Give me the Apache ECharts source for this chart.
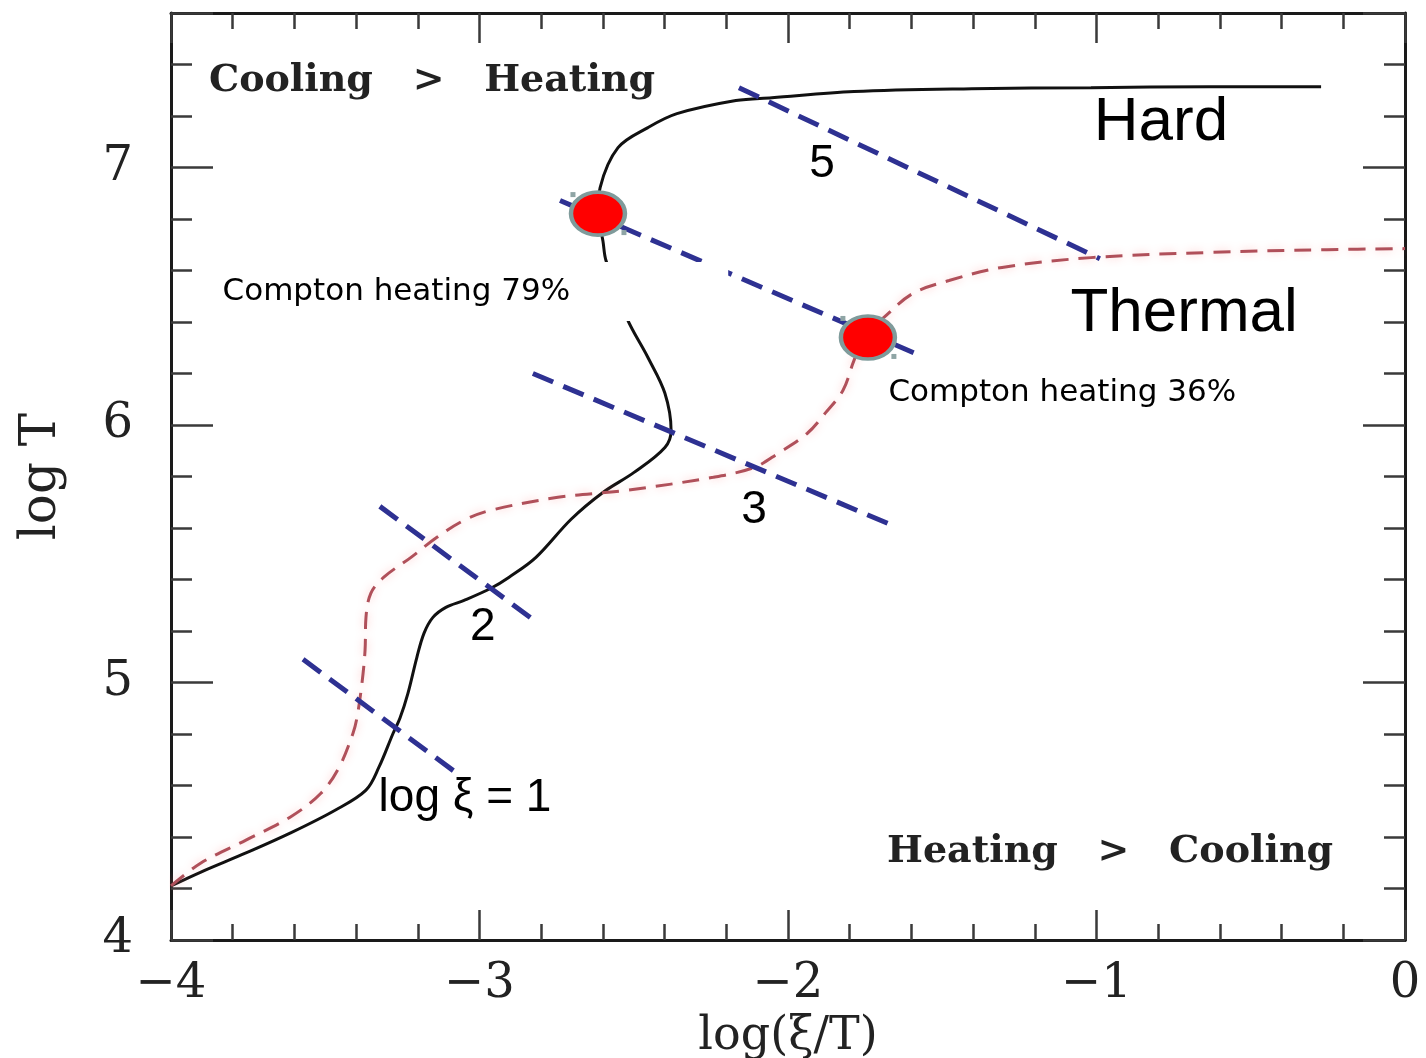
<!DOCTYPE html>
<html><head><meta charset="utf-8">
<script src="https://cdn.jsdelivr.net/npm/echarts@6/dist/echarts.min.js"></script>
<style>html,body{margin:0;padding:0;background:#fff}#c{width:1426px;height:1058px}</style>
</head><body><div id="c"></div>
<script>
// Hard (solid black) S-curve
const hardX = [-4.000,-3.903,-3.757,-3.614,-3.468,-3.368,-3.326,-3.280,-3.258,-3.232,-3.203,-3.180,-3.151,-3.109,-3.050,-2.963,-2.904,-2.817,-2.703,-2.600,-2.499,-2.399,-2.379,-2.399,-2.454,-2.522,-2.590,-2.600,-2.616,-2.609,-2.551,-2.454,-2.360,-2.169,-2.052,-1.786,-1.404,-1.018,-0.635,-0.272];
const hardY = [4.210,4.264,4.338,4.415,4.504,4.582,4.671,4.803,4.861,4.958,5.098,5.191,5.253,5.292,5.319,5.366,5.409,5.486,5.634,5.738,5.816,5.913,5.979,6.123,6.262,6.414,6.639,6.716,6.821,6.922,7.077,7.155,7.209,7.260,7.271,7.295,7.306,7.310,7.314,7.314];
// Thermal (dashed red) S-curve
const thermalX = [-4.000,-3.903,-3.757,-3.614,-3.514,-3.455,-3.410,-3.397,-3.381,-3.371,-3.368,-3.352,-3.310,-3.222,-3.138,-3.050,-2.963,-2.746,-2.528,-2.243,-2.110,-2.032,-1.938,-1.880,-1.822,-1.786,-1.747,-1.689,-1.595,-1.478,-1.306,-1.018,-0.635,-0.253,0.000];
const thermalY = [4.210,4.299,4.388,4.477,4.570,4.671,4.803,4.865,4.997,5.125,5.253,5.347,5.409,5.486,5.564,5.630,5.669,5.719,5.746,5.797,5.835,5.890,5.967,6.045,6.134,6.251,6.355,6.418,6.511,6.561,6.612,6.650,6.670,6.681,6.685];
// constant log xi lines (endpoints)
const xiLineNames = ['1','2','3','4','5'];
const xiLineX = [[-3.572,-3.057],[-3.323,-2.810],[-2.827,-1.647],[-2.739,-1.572],[-2.159,-0.989]];
const xiLineY = [[5.090,4.633],[5.684,5.230],[6.200,5.603],[6.872,6.270],[7.310,6.646]];
// Compton-heating markers
const comptonX = [-2.616,-1.741];
const comptonY = [6.821,6.340];
// ticks
const xTickValues = [-4,-3,-2,-1,0];
const yTickValues = [4,5,6,7];
// annotations [text, x, y]
const regionNotes = [['Cooling   >   Heating',-3.154,7.337],['Heating   >   Cooling',-0.956,4.341]];
const curveNotes = [['Hard',-0.791,7.174],['Thermal',-0.716,6.433]];
const xiNotes = [['5',-1.890,7.011],['3',-2.110,5.669],['2',-2.989,5.215],['log ξ = 1',-3.047,4.551]];
const comptonNoteBox = [['Compton heating 79%',-3.867,6.518]];
const comptonNotes = [['Compton heating 36%',-1.676,6.123]];

const zip = (xs, ys) => xs.map((x, i) => [x, ys[i]]);
const serif = 'DejaVu Serif';
const tickCol = '#3a3a3a';
const minus = v => (v < 0 ? '\u2212' + Math.abs(v) : String(v));

function xAxisCfg(pos, labels) {
  return {
    type: 'value', position: pos, min: -4, max: 0, interval: 1,
    axisLine: {show: true, onZero: false, lineStyle: {color: '#1a1a1a', width: 3}},
    axisTick: {show: true, inside: true, length: 30, lineStyle: {color: tickCol, width: 2.5}},
    minorTick: {show: true, splitNumber: 5, length: 16, lineStyle: {color: tickCol, width: 2.5}},
    splitLine: {show: false}, minorSplitLine: {show: false},
    axisLabel: {show: labels, margin: 21, fontFamily: serif, fontSize: 48, color: '#222',
      formatter: v => xTickValues.includes(v) ? minus(v) : ''},
    name: labels ? 'log(ξ/T)' : '', nameLocation: 'middle', nameGap: 62,
    nameTextStyle: {fontFamily: serif, fontSize: 46, color: '#222'}
  };
}
function yAxisCfg(pos, major, labels) {
  return {
    type: 'value', position: pos, min: 4, max: 7.6, interval: major ? 1 : 0.2,
    axisLine: {show: major, onZero: false, lineStyle: {color: '#1a1a1a', width: 3}},
    axisTick: {show: true, inside: true, length: major ? 42 : 21, lineStyle: {color: tickCol, width: 2.5}},
    splitLine: {show: false},
    axisLabel: {show: labels, margin: 38, fontFamily: serif, fontSize: 48, color: '#222',
      formatter: v => yTickValues.includes(v) ? String(v) : ''},
    name: labels ? 'log T' : '', nameLocation: 'middle', nameGap: 104, nameRotate: 90,
    nameTextStyle: {fontFamily: serif, fontSize: 50, color: '#222'}
  };
}
function textSeries(items, label, z) {
  return {
    type: 'scatter', silent: true, z: z, symbolSize: 1, itemStyle: {color: 'rgba(0,0,0,0)', opacity: 1},
    data: items.map(t => [t[1], t[2], t[0]]),
    label: Object.assign({show: true, position: 'inside', formatter: p => p.data[2]}, label)
  };
}
function handleSeries(offset) {
  return {type: 'scatter', silent: true, z: 5, data: zip(comptonX, comptonY), symbol: 'rect', symbolSize: 5,
    symbolOffset: offset, itemStyle: {color: '#8fa5a5', opacity: 1}};
}

const option = {
  animation: false,
  backgroundColor: '#fff',
  grid: {left: 171, right: 21, top: 13, bottom: 118, outerBoundsMode: 'none', containLabel: false},
  xAxis: [xAxisCfg('bottom', true), xAxisCfg('top', false)],
  yAxis: [yAxisCfg('left', true, true), yAxisCfg('left', false, false),
          yAxisCfg('right', true, false), yAxisCfg('right', false, false)],
  series: [
    {type: 'line', data: zip(hardX, hardY), symbol: 'none', smooth: 0.35, z: 2,
     lineStyle: {color: '#111', width: 3}},
    {type: 'line', data: zip(thermalX, thermalY), symbol: 'none', smooth: 0.35, z: 2,
     lineStyle: {color: '#b0505a', width: 3, type: [17, 10], shadowBlur: 8, shadowColor: 'rgba(255,130,130,0.45)'}},
    ...xiLineNames.map((n, i) => ({
      type: 'line', name: 'log xi ' + n, data: zip(xiLineX[i], xiLineY[i]), symbol: 'none', z: 3,
      lineStyle: {color: '#2e3192', width: 5, type: [22, 11]}
    })),
    textSeries(comptonNoteBox, {position: 'right', distance: 0, fontFamily: 'DejaVu Sans', fontSize: 31, color: '#000',
      backgroundColor: '#fff', padding: [14, 158, 14, 10]}, 4),
    handleSeries([-25, -19]),
    handleSeries([26, 19]),
    {type: 'scatter', data: zip(comptonX, comptonY), symbol: 'circle', symbolSize: [54, 43], z: 6,
     itemStyle: {color: '#ff0000', borderColor: '#7f9b9b', borderWidth: 4, opacity: 1}},
    textSeries(comptonNotes, {position: 'right', distance: 0, fontFamily: 'DejaVu Sans', fontSize: 31, color: '#000'}, 7),
    textSeries(regionNotes, {fontFamily: serif, fontWeight: 'bold', fontSize: 38, color: '#222'}, 7),
    textSeries(curveNotes, {fontFamily: 'Liberation Sans', fontSize: 62, color: '#000'}, 7),
    textSeries(xiNotes, {fontFamily: 'Liberation Sans', fontSize: 46, color: '#000'}, 7)
  ]
};
const chart = echarts.init(document.getElementById('c'));
chart.setOption(option);
</script></body></html>
